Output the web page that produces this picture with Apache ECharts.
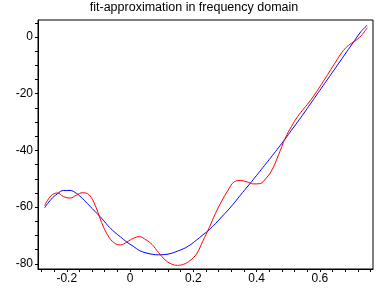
<!DOCTYPE html>
<html>
<head>
<meta charset="utf-8">
<script src="https://cdn.jsdelivr.net/npm/echarts@6/dist/echarts.min.js"></script>
<style>
html,body{margin:0;padding:0;background:#fff;}
#chart{width:388px;height:288px;}
</style>
</head>
<body>
<div id="chart"></div>
<script>
var titleText = 'fit-approximation in frequency domain';
var xValues = [-0.27,-0.25,-0.23,-0.21,-0.19,-0.17,-0.15,-0.13,-0.11,-0.09,-0.07,-0.05,-0.03,-0.01,
  0.01,0.03,0.05,0.07,0.09,0.11,0.13,0.15,0.17,0.19,0.21,0.23,0.25,0.27,0.29,0.31,0.33,0.35,0.37,0.39,
  0.41,0.43,0.45,0.47,0.49,0.51,0.53,0.55,0.57,0.59,0.61,0.63,0.65,0.67,0.69,0.71,0.73,0.75];
var blueValues = [-60.2,-57.3,-55.3,-54.1,-54.1,-55.1,-57.0,-59.3,-61.6,-63.9,-66.5,-68.7,-70.5,-72.3,
  -73.8,-75.3,-76.1,-76.6,-76.8,-76.7,-76.3,-75.5,-74.6,-73.3,-71.6,-69.8,-68.0,-65.8,-63.4,-61.0,-58.4,-55.6,-52.9,-50.2,
  -47.4,-44.6,-41.8,-38.9,-36.0,-32.9,-29.9,-26.8,-23.6,-20.4,-17.2,-14.0,-10.8,-7.6,-4.4,-1.2,1.9,4.2];
var redValues = [-59.5,-56.0,-55.0,-56.3,-56.8,-55.8,-54.9,-55.6,-59.4,-65.4,-70.0,-72.6,-73.3,-72.3,
  -71.0,-70.4,-71.5,-73.2,-76.0,-78.5,-80.0,-80.5,-80.1,-78.8,-76.5,-72.0,-67.3,-62.2,-57.8,-54.0,-51.0,-50.6,-51.1,-51.8,
  -51.7,-49.8,-46.6,-41.4,-35.8,-31.6,-28.0,-25.2,-22.4,-19.2,-15.8,-12.3,-8.8,-5.4,-3.0,-1.5,0.4,3.3];
var xTickLabels = [-0.2,0,0.2,0.4,0.6];
var xMinorTicks = [-0.28,-0.24,-0.2,-0.16,-0.12,-0.08,-0.04,0,0.04,0.08,0.12,0.16,0.2,0.24,0.28,0.32,0.36,0.4,0.44,0.48,0.52,0.56,0.6,0.64,0.68,0.72,0.76];
var yTickLabels = [-80,-60,-40,-20,0];
var yMinorTicks = [-80,-75,-70,-65,-60,-55,-50,-45,-40,-35,-30,-25,-20,-15,-10,-5,0,5];

function pairs(xs, ys){ var out=[]; for(var i=0;i<xs.length;i++){ out.push([xs[i], ys[i]]); } return out; }

var chart = echarts.init(document.getElementById('chart'), null, {renderer:'canvas'});
var font = 'Liberation Sans, Arial, sans-serif';
chart.setOption({
  animation:false,
  backgroundColor:'#fff',
  title:{text:titleText, left:'center', top:1, padding:0,
    textStyle:{fontFamily:font, fontSize:12.5, fontWeight:'normal', color:'#000'}},
  grid:{left:38, right:15, top:20, bottom:19, show:true, borderColor:'#000', borderWidth:1, containLabel:false},
  xAxis:{type:'value', min:-0.291, max:0.768,
    axisLine:{show:true, onZero:false, lineStyle:{color:'#000', width:1}},
    axisTick:{show:true, inside:false, length:3, customValues:xMinorTicks, lineStyle:{color:'#000'}},
    axisLabel:{customValues:xTickLabels, margin:4, color:'#000', fontFamily:font, fontSize:12,
      formatter:function(v){ return v===0 ? '0' : String(v); }},
    splitLine:{show:false}},
  yAxis:{type:'value', min:-81.8, max:6,
    axisLine:{show:true, onZero:false, lineStyle:{color:'#000', width:1}},
    axisTick:{show:true, inside:false, length:3, customValues:yMinorTicks, lineStyle:{color:'#000'}},
    axisLabel:{customValues:yTickLabels, margin:5, color:'#000', fontFamily:font, fontSize:12},
    splitLine:{show:false}},
  series:[
    {type:'line', data:pairs(xValues, blueValues), smooth:0.4, showSymbol:false,
      lineStyle:{color:'#0000ff', width:1}, itemStyle:{color:'#0000ff'}},
    {type:'line', data:pairs(xValues, redValues), smooth:0.4, showSymbol:false,
      lineStyle:{color:'#ff0000', width:1}, itemStyle:{color:'#ff0000'}}
  ]
});
</script>
</body>
</html>
